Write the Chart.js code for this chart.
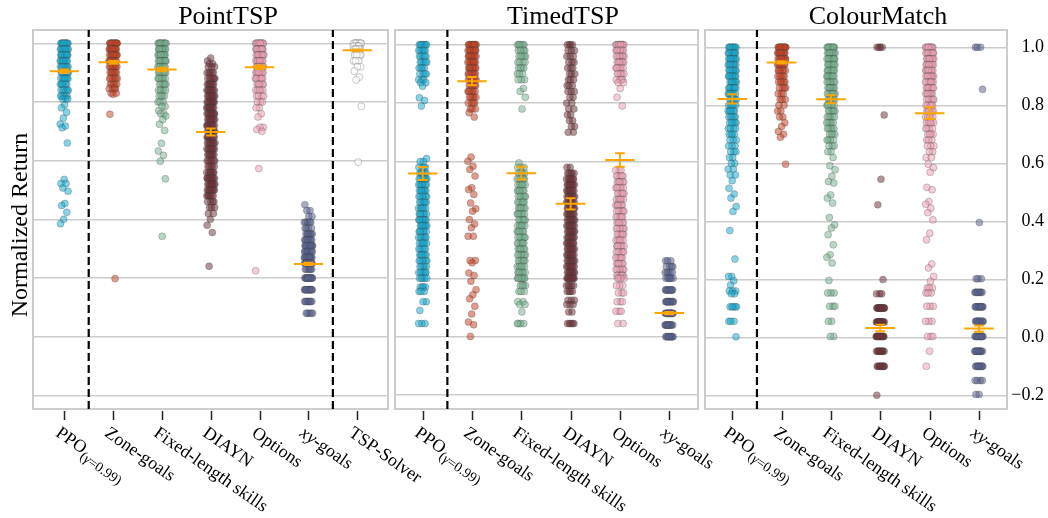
<!DOCTYPE html>
<html>
<head>
<meta charset="utf-8">
<script src="https://cdn.jsdelivr.net/npm/chart.js@4.4.1/dist/chart.umd.min.js"></script>
<style>
  body { margin: 0; background: #fff; }
  #wrap { position: relative; width: 1048px; height: 518px; }
  canvas { position: absolute; left: 0; top: 0; }
</style>
</head>
<body>
<div id="wrap">
  <canvas id="c1" width="1048" height="518"></canvas>
  <canvas id="c2" width="1048" height="518"></canvas>
  <canvas id="c3" width="1048" height="518"></canvas>
</div>
<script>
// strip plot of normalized return per method, three environments
const yTitle = "Normalized Return";
const yTickValues = [-0.2, 0.0, 0.2, 0.4, 0.6, 0.8, 1.0];

const catsPoint = ["PPO(γ=0.99)", "Zone-goals", "Fixed-length skills", "DIAYN", "Options", "xy-goals", "TSP-Solver"];
const catsTimed = ["PPO(γ=0.99)", "Zone-goals", "Fixed-length skills", "DIAYN", "Options", "xy-goals"];
const catsColour = ["PPO(γ=0.99)", "Zone-goals", "Fixed-length skills", "DIAYN", "Options", "xy-goals"];

// each run as [return, how many runs landed there]
// PointTSP
const pointPPO = [[1.0,12],[0.98,10],[0.96,10],[0.94,9],[0.92,8],[0.90,8],[0.88,7],[0.86,6],[0.84,6],[0.82,5],[0.81,3],[0.79,1],[0.78,1],[0.765,1],[0.745,1],[0.725,1],[0.718,1],[0.712,1],[0.66,1],[0.536,1],[0.522,2],[0.507,1],[0.496,1],[0.454,1],[0.447,1],[0.424,1],[0.40,1],[0.385,1]];
const pointZone = [[1.0,14],[0.98,12],[0.96,10],[0.94,9],[0.92,8],[0.90,7],[0.88,6],[0.86,5],[0.845,4],[0.83,2],[0.826,1],[0.758,1],[0.198,1]];
const pointFixed = [[1.0,12],[0.98,10],[0.96,10],[0.94,9],[0.92,8],[0.90,8],[0.88,7],[0.86,6],[0.84,5],[0.82,4],[0.80,3],[0.785,2],[0.77,1],[0.76,2],[0.752,1],[0.74,1],[0.724,1],[0.703,1],[0.659,1],[0.633,1],[0.618,1],[0.598,1],[0.538,1],[0.342,1]];
const pointDIAYN = [[0.95,1],[0.94,1],[0.93,2],[0.92,3],[0.90,5],[0.88,6],[0.86,7],[0.84,8],[0.82,8],[0.80,9],[0.78,9],[0.76,9],[0.74,9],[0.72,9],[0.70,9],[0.68,9],[0.66,8],[0.64,8],[0.62,7],[0.60,6],[0.58,5],[0.56,7],[0.54,9],[0.52,9],[0.50,8],[0.48,6],[0.46,4],[0.44,3],[0.42,2],[0.40,1],[0.38,1],[0.355,1],[0.24,1]];
const pointOptions = [[1.0,12],[0.98,10],[0.96,10],[0.94,9],[0.92,8],[0.90,8],[0.88,7],[0.86,6],[0.84,5],[0.82,4],[0.80,3],[0.78,2],[0.76,1],[0.749,1],[0.714,2],[0.706,1],[0.70,1],[0.573,1],[0.225,1]];
const pointXY = [[0.45,1],[0.43,2],[0.41,2],[0.39,5],[0.37,4],[0.35,7],[0.33,8],[0.31,12],[0.29,10],[0.27,14],[0.25,12],[0.23,6],[0.20,14],[0.16,12],[0.12,8],[0.08,5]];
const pointSolver = [[1.0,10],[0.99,6],[0.98,6],[0.96,5],[0.94,3],[0.92,2],[0.905,1],[0.885,1],[0.875,1],[0.785,1],[0.595,1]];
const pointMeans = [0.905, 0.935, 0.911, 0.698, 0.918, 0.248, 0.976];
const pointErrs = [0.006, 0.005, 0.006, 0.012, 0.006, 0.004, 0.003];

// TimedTSP
const timedPPO = [[1.0,8],[0.98,6],[0.96,5],[0.94,5],[0.92,4],[0.90,4],[0.88,3],[0.87,2],[0.858,1],[0.818,1],[0.809,1],[0.79,1],[0.61,1],[0.60,2],[0.58,4],[0.56,6],[0.54,7],[0.52,7],[0.50,7],[0.48,6],[0.46,6],[0.44,6],[0.42,6],[0.40,8],[0.38,7],[0.36,6],[0.34,6],[0.32,6],[0.30,5],[0.28,6],[0.26,6],[0.24,5],[0.22,6],[0.20,5],[0.17,4],[0.155,3],[0.12,2],[0.09,1],[0.045,3]];
const timedZone = [[1.0,12],[0.98,10],[0.96,10],[0.94,9],[0.92,9],[0.90,8],[0.88,8],[0.86,7],[0.84,6],[0.82,5],[0.80,4],[0.78,3],[0.767,1],[0.752,1],[0.615,1],[0.601,1],[0.584,1],[0.573,1],[0.55,1],[0.51,1],[0.504,1],[0.487,1],[0.458,1],[0.438,1],[0.43,1],[0.401,1],[0.386,1],[0.373,1],[0.344,2],[0.261,2],[0.253,1],[0.218,1],[0.21,1],[0.19,1],[0.161,1],[0.144,1],[0.13,1],[0.104,1],[0.078,1],[0.05,1],[0.041,1],[0.001,1]];
const timedFixed = [[1.0,6],[0.98,5],[0.96,5],[0.94,4],[0.92,4],[0.90,3],[0.88,3],[0.85,1],[0.84,1],[0.82,1],[0.78,1],[0.595,1],[0.58,3],[0.56,5],[0.54,6],[0.52,6],[0.50,6],[0.48,6],[0.46,6],[0.44,6],[0.42,6],[0.40,6],[0.38,6],[0.36,6],[0.34,6],[0.32,6],[0.30,6],[0.28,6],[0.26,6],[0.24,6],[0.22,6],[0.20,8],[0.175,4],[0.155,3],[0.12,2],[0.11,2],[0.085,1],[0.045,4]];
const timedDIAYN = [[1.0,4],[0.98,3],[0.96,3],[0.94,3],[0.92,3],[0.90,3],[0.88,3],[0.86,3],[0.84,3],[0.82,2],[0.80,2],[0.78,2],[0.76,2],[0.74,2],[0.72,2],[0.70,2],[0.58,2],[0.56,5],[0.54,7],[0.52,8],[0.50,8],[0.48,8],[0.46,8],[0.44,8],[0.42,8],[0.40,8],[0.38,8],[0.36,8],[0.34,8],[0.32,8],[0.30,8],[0.28,8],[0.26,8],[0.24,8],[0.22,8],[0.20,10],[0.175,5],[0.155,4],[0.125,3],[0.11,3],[0.085,2],[0.045,5]];
const timedOptions = [[1.0,12],[0.98,9],[0.96,8],[0.94,7],[0.92,6],[0.90,5],[0.88,4],[0.87,2],[0.85,1],[0.82,1],[0.79,1],[0.57,3],[0.55,5],[0.53,6],[0.51,6],[0.49,6],[0.47,6],[0.45,6],[0.43,6],[0.41,6],[0.39,6],[0.37,6],[0.35,6],[0.33,6],[0.31,6],[0.29,6],[0.27,6],[0.25,6],[0.23,6],[0.21,6],[0.20,4],[0.175,3],[0.15,3],[0.12,3],[0.087,3],[0.045,2]];
const timedXY = [[0.26,3],[0.24,4],[0.22,5],[0.20,6],[0.16,10],[0.12,12],[0.08,14],[0.04,12],[0.0,10]];
const timedMeans = [0.559, 0.875, 0.560, 0.455, 0.605, 0.081];
const timedErrs = [0.022, 0.014, 0.022, 0.019, 0.023, 0.004];

// ColourMatch
const colourPPO = [[1.0,10],[0.98,9],[0.96,9],[0.94,8],[0.92,8],[0.90,8],[0.88,7],[0.86,7],[0.84,7],[0.82,6],[0.80,6],[0.78,6],[0.76,5],[0.74,5],[0.72,4],[0.70,4],[0.68,3],[0.66,3],[0.64,3],[0.62,2],[0.60,2],[0.58,2],[0.56,2],[0.54,1],[0.514,1],[0.494,1],[0.48,1],[0.451,1],[0.434,1],[0.368,1],[0.27,1],[0.21,2],[0.195,1],[0.18,1],[0.16,3],[0.15,2],[0.105,5],[0.055,3],[0.002,1]];
const colourZone = [[1.0,14],[0.98,12],[0.96,10],[0.94,8],[0.92,6],[0.90,5],[0.88,5],[0.86,4],[0.84,3],[0.82,3],[0.80,2],[0.78,2],[0.76,2],[0.74,1],[0.727,1],[0.71,1],[0.70,1],[0.69,1],[0.597,1]];
const colourFixed = [[1.0,10],[0.98,9],[0.96,9],[0.94,8],[0.92,8],[0.90,8],[0.88,7],[0.86,7],[0.84,7],[0.82,6],[0.80,6],[0.78,6],[0.76,5],[0.74,5],[0.72,5],[0.70,4],[0.68,4],[0.66,3],[0.64,2],[0.62,1],[0.592,1],[0.578,1],[0.555,1],[0.537,1],[0.532,1],[0.491,1],[0.48,1],[0.463,1],[0.413,1],[0.388,1],[0.377,1],[0.354,1],[0.319,1],[0.285,1],[0.276,1],[0.256,1],[0.196,1],[0.153,3],[0.107,3],[0.055,2],[0.003,2]];
const colourDIAYN = [[1.0,4],[0.767,1],[0.545,1],[0.457,1],[0.199,1],[0.15,3],[0.101,16],[0.053,14],[0.003,16],[-0.048,10],[-0.1,10],[-0.2,1]];
const colourOptions = [[1.0,10],[0.98,9],[0.96,9],[0.94,8],[0.92,8],[0.90,8],[0.88,7],[0.86,7],[0.84,7],[0.82,6],[0.80,6],[0.78,6],[0.76,5],[0.74,5],[0.72,4],[0.70,4],[0.68,3],[0.66,3],[0.64,2],[0.62,2],[0.597,1],[0.585,1],[0.569,1],[0.517,1],[0.509,1],[0.468,1],[0.459,1],[0.445,1],[0.43,1],[0.405,1],[0.359,1],[0.336,1],[0.253,1],[0.239,1],[0.21,1],[0.193,1],[0.17,3],[0.153,3],[0.107,3],[0.055,3],[0.003,3],[-0.048,1],[-0.1,1]];
const colourXY = [[1.0,3],[0.855,1],[0.396,1],[0.202,3],[0.155,8],[0.105,12],[0.055,12],[0.003,14],[-0.048,12],[-0.1,10],[-0.149,4],[-0.197,2]];
const colourMeans = [0.822, 0.948, 0.821, 0.032, 0.773, 0.030];
const colourErrs = [0.016, 0.004, 0.014, 0.011, 0.020, 0.011];

const palette = {
  "PPO(γ=0.99)": "23,168,208",
  "Zone-goals": "196,68,38",
  "Fixed-length skills": "118,176,142",
  "DIAYN": "110,52,58",
  "Options": "236,160,178",
  "xy-goals": "88,98,142",
  "TSP-Solver": "255,255,255"
};

const SERIF = "'Liberation Serif', 'Times New Roman', serif";
const TOP = 30, BOTTOM = 409;

const panels = [
  { id: "c1", title: "PointTSP", titleX: 228, cats: catsPoint,
    strips: [pointPPO, pointZone, pointFixed, pointDIAYN, pointOptions, pointXY, pointSolver],
    means: pointMeans, errs: pointErrs, dividers: [0.5, 5.5],
    left: 33, right: 388, xMin: -0.641, xMax: 6.629, yMin: -0.2464, yMax: 1.0453, first: true, last: false },
  { id: "c2", title: "TimedTSP", titleX: 563, cats: catsTimed,
    strips: [timedPPO, timedZone, timedFixed, timedDIAYN, timedOptions, timedXY],
    means: timedMeans, errs: timedErrs, dividers: [0.5],
    left: 395, right: 698, xMin: -0.562, xMax: 5.583, yMin: -0.2476, yMax: 1.0503, first: false, last: false },
  { id: "c3", title: "ColourMatch", titleX: 878, cats: catsColour,
    strips: [colourPPO, colourZone, colourFixed, colourDIAYN, colourOptions, colourXY],
    means: colourMeans, errs: colourErrs, dividers: [0.5],
    left: 705, right: 1007, xMin: -0.553, xMax: 5.567, yMin: -0.2472, yMax: 1.0597, first: false, last: true }
];

// fixed jitter so each strip spreads sideways like a stripplot
function jitter(k, i) {
  return ((((k + 1) * 0.6180339887 + i * 0.29) % 1) - 0.5) * 0.17;
}

function labelParts(label) {
  const big = "18px " + SERIF;
  if (label.startsWith("PPO(")) {
    const small = "14px " + SERIF;
    return [
      { t: "PPO", font: big, dy: 0 },
      { t: "(", font: small, dy: 5 },
      { t: "γ", font: "italic " + small, dy: 5 },
      { t: "=0.99)", font: small, dy: 5 }
    ];
  }
  if (label.startsWith("xy")) {
    return [{ t: "xy", font: "italic " + big, dy: 0 }, { t: label.slice(2), font: big, dy: 0 }];
  }
  return [{ t: label, font: big, dy: 0 }];
}

function makePanel(p) {
  const datasets = [];

  p.strips.forEach((strip, i) => {
    const pts = [];
    let k = 0;
    strip.forEach(([v, n]) => {
      for (let r = 0; r < n; r++) pts.push({ x: i + jitter(k++, i), y: v });
    });
    const name = p.cats[i];
    const solver = name === "TSP-Solver";
    datasets.push({
      data: pts,
      pointRadius: 3.5,
      pointHoverRadius: 3.5,
      backgroundColor: solver ? "rgba(255,255,255,0.6)" : "rgba(" + palette[name] + ",0.52)",
      borderColor: solver ? "rgba(90,90,90,0.55)" : "rgba(60,60,60,0.45)",
      borderWidth: 0.6,
      order: 2
    });
  });

  // mean line with 95% interval bar
  p.means.forEach((m, i) => {
    const hi = m + p.errs[i], lo = m - p.errs[i];
    datasets.push({
      data: [
        { x: i - 0.3, y: m }, { x: i + 0.3, y: m }, { x: i, y: m },
        { x: i, y: hi }, { x: i - 0.1, y: hi }, { x: i + 0.1, y: hi }, { x: i, y: hi },
        { x: i, y: lo }, { x: i - 0.1, y: lo }, { x: i + 0.1, y: lo }
      ],
      showLine: true,
      pointRadius: 0,
      borderColor: "#ffa500",
      borderWidth: 2,
      order: 1
    });
  });

  p.dividers.forEach(d => {
    datasets.push({
      data: [{ x: d, y: p.yMin }, { x: d, y: p.yMax }],
      showLine: true,
      pointRadius: 0,
      borderColor: "#000",
      borderWidth: 2.2,
      borderDash: [8, 4],
      clip: 0,
      order: 0
    });
  });

  const decor = {
    id: "decor",
    beforeDatasetsDraw(chart) {
      const { ctx, chartArea: a } = chart;
      ctx.save();
      ctx.strokeStyle = "#cccccc";
      ctx.lineWidth = 2;
      ctx.strokeRect(a.left, a.top, a.right - a.left, a.bottom - a.top);
      ctx.restore();
    },
    afterDraw(chart) {
      const { ctx } = chart;
      const xs = chart.scales.x;
      ctx.save();
      // title
      ctx.fillStyle = "#000";
      ctx.font = "26px " + SERIF;
      ctx.textAlign = "center";
      ctx.textBaseline = "alphabetic";
      ctx.fillText(p.title, p.titleX, 23.5);

      if (p.first) {
        ctx.save();
        ctx.translate(27, 225);
        ctx.rotate(-Math.PI / 2);
        ctx.font = "24px " + SERIF;
        ctx.textAlign = "center";
        ctx.fillText(yTitle, 0, 0);
        ctx.restore();
      }

      // category ticks and rotated labels
      ctx.strokeStyle = "#222";
      ctx.lineWidth = 1.5;
      p.cats.forEach((c, i) => {
        const px = Math.round(xs.getPixelForValue(i)) + 0.5;
        ctx.beginPath();
        ctx.moveTo(px, 411);
        ctx.lineTo(px, 420);
        ctx.stroke();

        ctx.save();
        ctx.translate(px, 425);
        ctx.rotate(35 * Math.PI / 180);
        ctx.textAlign = "left";
        ctx.textBaseline = "alphabetic";
        let u = -2;
        labelParts(c).forEach(s => {
          ctx.font = s.font;
          ctx.fillText(s.t, u, 14 + s.dy);
          u += ctx.measureText(s.t).width;
        });
        ctx.restore();
      });
      ctx.restore();
    }
  };

  new Chart(document.getElementById(p.id), {
    type: "scatter",
    data: { datasets },
    options: {
      responsive: false,
      animation: false,
      events: [],
      layout: {
        padding: { left: p.left, right: p.last ? 4 : 1048 - p.right, top: TOP, bottom: 518 - BOTTOM }
      },
      plugins: { legend: { display: false }, tooltip: { enabled: false } },
      scales: {
        x: {
          type: "linear",
          min: p.xMin,
          max: p.xMax,
          grid: { display: false },
          border: { display: false },
          ticks: { display: false },
          afterFit: s => { s.height = 0; }
        },
        y: {
          type: "linear",
          position: p.last ? "right" : "left",
          min: p.yMin,
          max: p.yMax,
          grid: { color: "#cccccc", lineWidth: 1.5, drawTicks: false },
          border: { display: false },
          afterBuildTicks: s => { s.ticks = yTickValues.map(v => ({ value: v })); },
          ticks: {
            display: p.last,
            padding: 4,
            crossAlign: "far",
            color: "#000",
            font: { family: SERIF, size: 18 },
            callback: v => (Math.abs(v) < 1e-9 ? "0.0" : v.toFixed(1).replace("-", "\u2212"))
          },
          afterFit: s => { s.width = p.last ? 1048 - 4 - p.right : 0; }
        }
      }
    },
    plugins: [decor]
  });
}

panels.forEach(makePanel);
</script>
</body>
</html>
